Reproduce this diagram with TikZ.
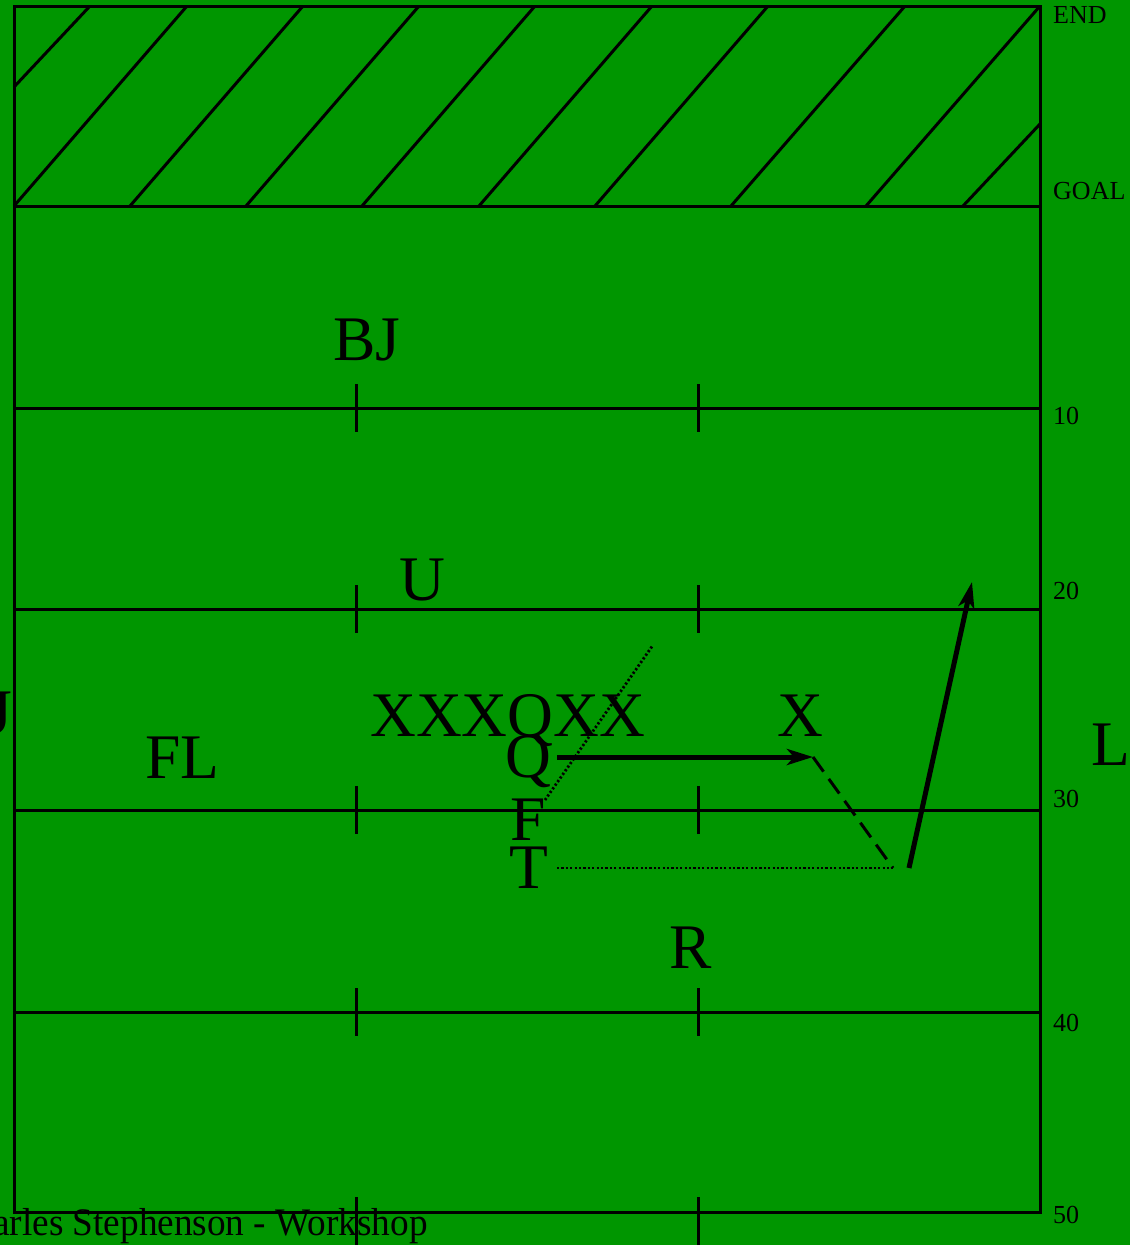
\documentclass[tikz,border=0pt]{standalone}
\usepackage{fontspec}
\setmainfont{Liberation Serif}
\usetikzlibrary{arrows.meta}
\definecolor{fieldgreen}{RGB}{0,150,0}
\begin{document}
\begin{tikzpicture}[x=1pt,y=-1pt,
  fieldline/.style={line width=3pt},
  hashmark/.style={line width=3pt},
  big/.style={inner sep=0,anchor=base west,font=\fontsize{63.5}{63.5}\selectfont},
  yard/.style={inner sep=0,anchor=base west,font=\fontsize{26}{26}\selectfont},
  credit/.style={inner sep=0,anchor=base east,font=\fontsize{39}{39}\selectfont},
  run/.style={line width=5pt,-{Stealth[length=26pt,width=16pt,inset=7pt]}},
  pathdot/.style={line width=2.8pt,dash pattern=on 2.2pt off 2.2pt},
  pathdash/.style={line width=3pt,dash pattern=on 18pt off 9pt}]
\useasboundingbox (0,0) rectangle (1130,1245);
\fill[fieldgreen] (0,0) rectangle (1130,1245);
% field
\draw[fieldline] (14,6) rectangle (1040,1212);
\draw[fieldline] (14,206) -- (1040,206);
\foreach \yy in {408,609,810,1012} {
  \draw[fieldline] (14,\yy) -- (1040,\yy);
  \draw[hashmark] (356,\yy-24) -- (356,\yy+24);
  \draw[hashmark] (698,\yy-24) -- (698,\yy+24);
}
\draw[hashmark] (356,1197) -- (356,1245);
\draw[hashmark] (698,1197) -- (698,1245);
% end zone hatching
\draw[fieldline] (14,87) -- (90,6);
\draw[fieldline] (14,206) -- (187,6);
\draw[fieldline] (130,206) -- (303,6);
\draw[fieldline] (246,206) -- (419,6);
\draw[fieldline] (362,206) -- (535,6);
\draw[fieldline] (479,206) -- (652,6);
\draw[fieldline] (595,206) -- (768,6);
\draw[fieldline] (731,206) -- (905,6);
\draw[fieldline] (866,206) -- (1040,6);
\draw[fieldline] (963,206) -- (1040,124);
% yard labels
\node[yard] (lend) at (1053,23) {END};
\node[yard] (lgoal) at (1053,199) {GOAL};
\node[yard] (l10) at (1053,424) {10};
\node[yard] (l20) at (1053,599) {20};
\node[yard] (l30) at (1053,807) {30};
\node[yard] (l40) at (1053,1031) {40};
\node[yard] (l50) at (1053,1223) {50};
% players and officials
\node[big] (bj) at (333,360) {BJ};
\node[big] (u) at (399,600) {U};
\node[big,anchor=base east] (lj) at (12,733) {J};
\node[big] (fl) at (145,778) {FL};
\node[big] (linex) at (370,736) {XXXQXX};
\node[big] (x) at (777,736) {X};
\node[big] (l) at (1091,765) {L};
\node[big] (q) at (505,777) {Q};
\node[big] (f) at (510,840) {F};
\node[big] (t) at (509,888) {T};
\node[big] (r) at (669,968) {R};
\node[credit] (cr) at (428,1235) {\scalebox{0.955}[1]{arles Stephenson - Workshop}};
% routes
\coordinate (qs) at (557,757);
\coordinate (cut) at (813,757);
\coordinate (turn) at (893,868);
\coordinate (ts) at (557,868);
\coordinate (fs) at (545,800);
\coordinate (fe) at (653,645);
\coordinate (ls) at (909,868);
\coordinate (le) at (972,582);
\draw[pathdot] (fs) -- (fe);
\draw[run] (qs) -- (cut);
\draw[pathdash] (cut) -- (turn);
\draw[pathdot] (ts) -- (turn);
\draw[run] (ls) -- (le);
\end{tikzpicture}
\end{document}
